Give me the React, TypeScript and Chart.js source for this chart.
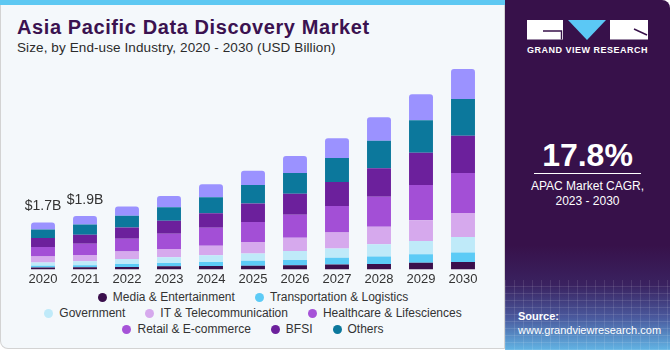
import React, { useEffect, useRef } from "react";
import { Chart, registerables } from "chart.js";

Chart.register(...registerables);

// ---- data (USD Billion) ----
const years = ["2020", "2021", "2022", "2023", "2024", "2025", "2026", "2027", "2028", "2029", "2030"];
const mediaEntertainment = [0.07, 0.08, 0.09, 0.11, 0.12, 0.13, 0.15, 0.18, 0.2, 0.24, 0.27];
const transportationLogistics = [0.06, 0.07, 0.11, 0.12, 0.15, 0.18, 0.19, 0.24, 0.27, 0.31, 0.34];
const government = [0.12, 0.15, 0.18, 0.21, 0.24, 0.27, 0.33, 0.34, 0.44, 0.48, 0.57];
const itTelecom = [0.22, 0.22, 0.27, 0.3, 0.35, 0.41, 0.48, 0.58, 0.64, 0.75, 0.87];
const healthcare = [0.34, 0.41, 0.46, 0.55, 0.65, 0.73, 0.83, 0.96, 1.09, 1.28, 1.45];
const retail = [0.25, 0.31, 0.33, 0.4, 0.47, 0.52, 0.62, 0.72, 0.85, 0.95, 1.09];
const bfsi = [0.33, 0.33, 0.41, 0.48, 0.53, 0.67, 0.77, 0.87, 1.03, 1.17, 1.35];
const others = [0.31, 0.37, 0.43, 0.49, 0.58, 0.67, 0.75, 0.87, 1.0, 1.18, 1.33];
const totalLabels = ["$1.7B", "$1.9B", "", "", "", "", "", "", "", "", ""];

// series in legend order
const seriesNames = [
  "Media & Entertainment",
  "Transportation & Logistics",
  "Government",
  "IT & Telecommunication",
  "Healthcare & Lifesciences",
  "Retail & E-commerce",
  "BFSI",
  "Others",
];
const seriesValues = [mediaEntertainment, transportationLogistics, government, itTelecom, healthcare, retail, bfsi, others];

// ---- styles ----
const barColors = ["#3a0f4c", "#5ccbf6", "#bfeaf9", "#d6a9ed", "#a34fd6", "#9b92ff", "#6c209c", "#0c789c"];
const legendDotColors = ["#3a0f4c", "#5ccbf6", "#bfeaf9", "#d6a9ed", "#a653d8", "#a653d8", "#6c209c", "#0c789c"];
// stacking order bottom -> top (indices into series)
const stackOrder = [0, 1, 2, 3, 4, 6, 7, 5];
const legendRows = [[0, 1], [2, 3, 4], [5, 6, 7]];
const FONT = "'Liberation Sans', Arial, Helvetica, sans-serif";

const totalLabelPlugin = {
  id: "totalLabels",
  afterDatasetsDraw(chart: any) {
    const { ctx, scales } = chart;
    const xs = scales.x;
    const ys = scales.y;
    ctx.save();
    ctx.font = `14px ${FONT}`;
    ctx.fillStyle = "#333333";
    ctx.textAlign = "center";
    ctx.textBaseline = "middle";
    years.forEach((_, i) => {
      const label = totalLabels[i];
      if (!label) return;
      let sum = 0;
      seriesValues.forEach((s) => (sum += s[i]));
      const x = xs.getPixelForValue(i);
      const y = ys.getPixelForValue(sum);
      ctx.fillText(label, x, y - 16);
    });
    ctx.restore();
  },
};

function BarChart() {
  const ref = useRef<HTMLCanvasElement | null>(null);
  useEffect(() => {
    if (!ref.current) return;
    Chart.defaults.font.family = FONT;
    const datasets = stackOrder.map((idx) => ({
      label: seriesNames[idx],
      data: seriesValues[idx],
      backgroundColor: barColors[idx],
      borderWidth: 0,
      borderRadius: 3,
      borderSkipped: "start" as const,
      barPercentage: 0.57,
      categoryPercentage: 1,
    }));
    const chart = new Chart(ref.current, {
      type: "bar",
      data: { labels: years, datasets },
      options: {
        animation: false,
        responsive: true,
        maintainAspectRatio: false,
        layout: { padding: { left: 22, right: 21, top: 0, bottom: 0 } },
        plugins: { legend: { display: false }, tooltip: { enabled: false } },
        scales: {
          x: {
            stacked: true,
            grid: { display: false, drawTicks: false },
            border: { display: false },
            ticks: { color: "#333333", font: { size: 13 }, padding: 2 },
          },
          y: {
            stacked: true,
            display: false,
            min: 0,
            max: 7.6,
          },
        },
      },
      plugins: [totalLabelPlugin],
    });
    return () => chart.destroy();
  }, []);
  return (
    <div style={{ position: "absolute", left: 0, top: 60, width: 505, height: 229 }}>
      <canvas ref={ref} />
    </div>
  );
}

function Legend() {
  return (
    <div style={{ position: "absolute", left: 22, top: 289, width: 462 }}>
      {legendRows.map((row, r) => (
        <div
          key={r}
          style={{
            display: "flex",
            justifyContent: "center",
            alignItems: "center",
            height: 16,
            gap: 20,
          }}
        >
          {row.map((idx) => (
            <div key={idx} style={{ display: "flex", alignItems: "center" }}>
              <span
                style={{
                  display: "inline-block",
                  width: 9,
                  height: 9,
                  borderRadius: "50%",
                  background: legendDotColors[idx],
                  marginRight: 6,
                }}
              />
              <span style={{ fontFamily: FONT, fontSize: 12, color: "#333333", whiteSpace: "nowrap" }}>
                {seriesNames[idx]}
              </span>
            </div>
          ))}
        </div>
      ))}
    </div>
  );
}

function Logo() {
  return (
    <svg
      style={{ position: "absolute", left: 527, top: 20 }}
      width={121}
      height={20}
      viewBox="0 0 121 20"
    >
      <rect x={0} y={0} width={36} height={19.5} fill="#ffffff" />
      <path d="M16 11 H34.5 V19.5" stroke="#37114a" strokeWidth={1.4} fill="none" />
      <polygon points="41,0 79,0 60,20" fill="#5bc8f5" />
      <rect x={83} y={0} width={38} height={19.5} fill="#ffffff" />
      <path d="M107 9 L120 15" stroke="#37114a" strokeWidth={1.4} fill="none" />
    </svg>
  );
}

export default function App() {
  return (
    <div
      style={{
        position: "absolute",
        left: 0,
        top: 0,
        width: 670,
        height: 350,
        background: "#ffffff",
        fontFamily: FONT,
        overflow: "hidden",
      }}
    >
      {/* left panel */}
      <div
        style={{
          position: "absolute",
          left: 0,
          top: 0,
          width: 503,
          height: 348,
          background: "#f4f8fb",
          border: "1px solid #d3d3d3",
          borderTop: "none",
          borderRadius: "0 0 0 8px",
        }}
      />
      <div style={{ position: "absolute", left: 0, top: 0, width: 505, height: 5, background: "#5ec8f2" }} />
      <div
        style={{
          position: "absolute",
          left: 17,
          top: 16,
          fontSize: 20,
          fontWeight: 700,
          letterSpacing: 0.6,
          color: "#3b1250",
          whiteSpace: "nowrap",
        }}
      >
        Asia Pacific Data Discovery Market
      </div>
      <div
        style={{
          position: "absolute",
          left: 17,
          top: 40,
          fontSize: 13.5,
          letterSpacing: 0.1,
          color: "#2b2b2b",
          whiteSpace: "nowrap",
        }}
      >
        Size, by End-use Industry, 2020 - 2030 (USD Billion)
      </div>

      <BarChart />
      <Legend />

      {/* right panel */}
      <div
        style={{
          position: "absolute",
          left: 505,
          top: 0,
          width: 165,
          height: 350,
          borderRadius: "0 8px 0 0",
          background:
            "linear-gradient(to bottom, #37114a 0px, #37114a 245px, #3a2260 285px, #4a5a9e 318px, #62b4e4 350px)",
          overflow: "hidden",
        }}
      >
        <div
          style={{
            position: "absolute",
            left: 0,
            top: 280,
            width: 165,
            height: 70,
            backgroundImage:
              "repeating-linear-gradient(90deg, rgba(255,255,255,0.10) 0px, rgba(255,255,255,0.10) 1px, transparent 1px, transparent 9px), repeating-linear-gradient(0deg, rgba(255,255,255,0.10) 0px, rgba(255,255,255,0.10) 1px, transparent 1px, transparent 7px)",
          }}
        />
      </div>
      <Logo />
      <div
        style={{
          position: "absolute",
          left: 505,
          top: 45,
          width: 165,
          textAlign: "center",
          color: "#ffffff",
          fontSize: 9,
          fontWeight: 700,
          letterSpacing: 0.5,
          whiteSpace: "nowrap",
        }}
      >
        GRAND VIEW RESEARCH
      </div>
      <div
        style={{
          position: "absolute",
          left: 505,
          top: 137,
          width: 165,
          textAlign: "center",
          color: "#ffffff",
          fontSize: 32,
          fontWeight: 700,
          lineHeight: "36px",
        }}
      >
        17.8%
      </div>
      <div style={{ position: "absolute", left: 534, top: 173, width: 107, height: 1, background: "#ffffff" }} />
      <div
        style={{
          position: "absolute",
          left: 505,
          top: 179,
          width: 165,
          textAlign: "center",
          color: "#ffffff",
          fontSize: 12,
          lineHeight: "15px",
        }}
      >
        APAC Market CAGR,
        <br />
        2023 - 2030
      </div>
      <div
        style={{
          position: "absolute",
          left: 518,
          top: 309,
          color: "#ffffff",
          fontSize: 11,
          lineHeight: "14px",
          whiteSpace: "nowrap",
        }}
      >
        <b>Source:</b>
        <br />
        www.grandviewresearch.com
      </div>
    </div>
  );
}
